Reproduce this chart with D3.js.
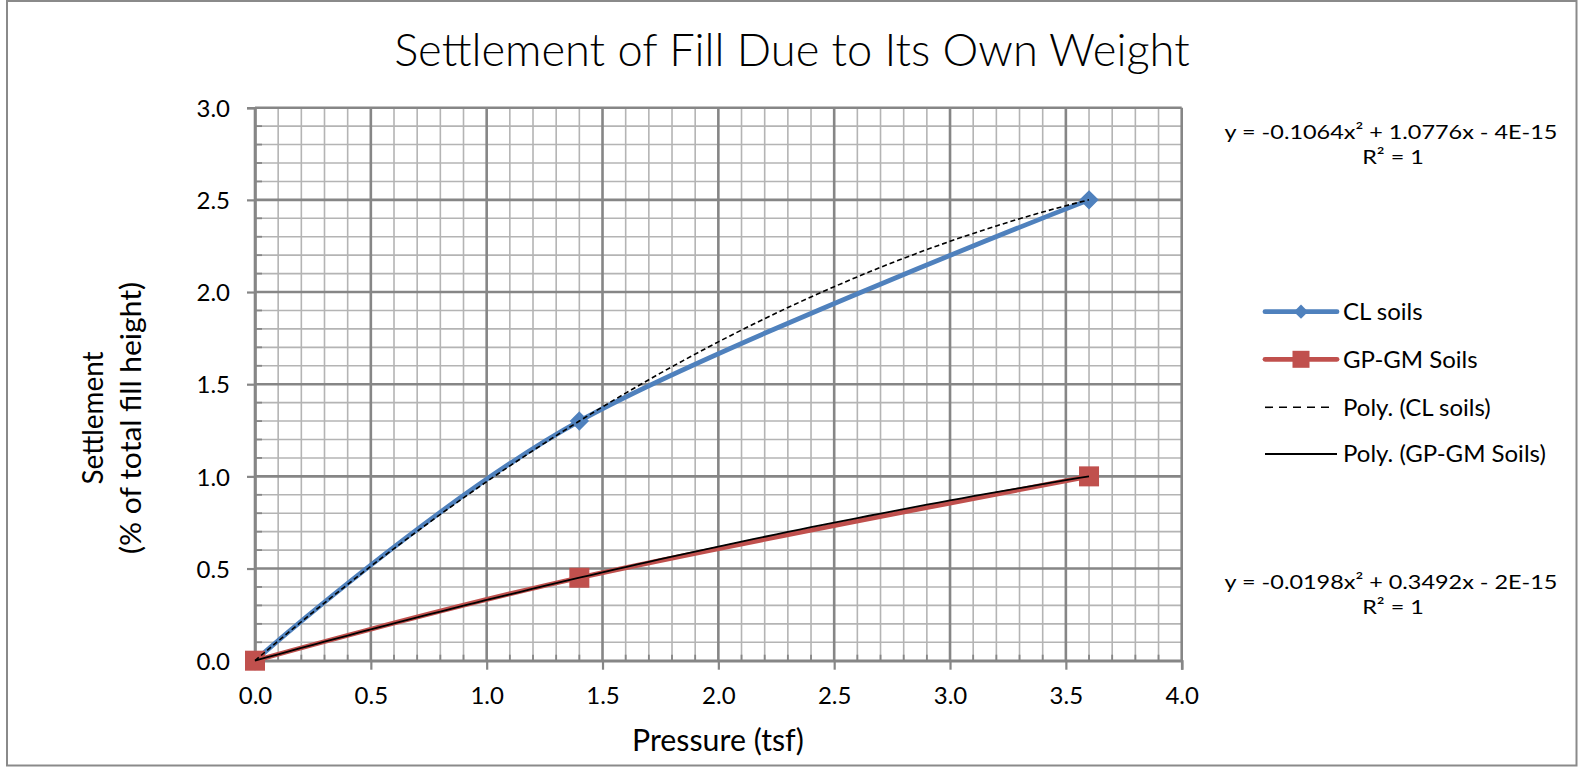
<!DOCTYPE html>
<html><head><meta charset="utf-8">
<script src="https://cdn.jsdelivr.net/npm/d3@7"></script>
<style>
html,body{margin:0;padding:0;background:#fff;}
svg{display:block;}
text{font-family:Lato,"Open Sans",sans-serif;fill:#000;}
</style></head>
<body>
<svg id="chart" width="1578" height="769"></svg>
<script>
// ---- data ----
const chartTitle = "Settlement of Fill Due to Its Own Weight";
const xAxisTitle = "Pressure (tsf)";
const yAxisTitleLines = ["Settlement", "(% of total fill height)"];
const xTickValues = [0.0, 0.5, 1.0, 1.5, 2.0, 2.5, 3.0, 3.5, 4.0];
const yTickValues = [0.0, 0.5, 1.0, 1.5, 2.0, 2.5, 3.0];
const seriesNames = ["CL soils", "GP-GM Soils"];
const pressure = [0, 1.4, 3.6];
const clSettlement = [0, 1.3, 2.5];
const gpSettlement = [0, 0.45, 1.0];
const clTrendCoef = [-0.1064, 1.0776, -4e-15];
const gpTrendCoef = [-0.0198, 0.3492, -2e-15];
const trendNames = ["Poly. (CL soils)", "Poly. (GP-GM Soils)"];
const clEquation = "y = -0.1064x\u00B2 + 1.0776x - 4E-15";
const gpEquation = "y = -0.0198x\u00B2 + 0.3492x - 2E-15";
const rSquaredLabel = "R\u00B2 = 1";

// ---- layout ----
const svg = d3.select("#chart");
const L = 255, R = 1181.7, T = 107.7, B = 660.7;
const x = d3.scaleLinear().domain([0, 4]).range([L, R]);
const y = d3.scaleLinear().domain([0, 3]).range([B, T]);
const blue = "#4F81BD", red = "#C0504D";
const majorGrid = "#868686", minorGrid = "#b4b4b4";

// outer chart border
svg.append("rect").attr("x", 7).attr("y", 1).attr("width", 1569.5).attr("height", 764.5)
  .attr("fill", "#fff").attr("stroke", "#8a8a8a").attr("stroke-width", 2);

// minor grid
const minorX = d3.range(0, 41).map(i => i / 10).filter(v => Math.abs(v * 2 - Math.round(v * 2)) > 1e-6);
const minorY = d3.range(0, 31).map(i => i / 10).filter(v => Math.abs(v * 2 - Math.round(v * 2)) > 1e-6);
const g = svg.append("g");
g.selectAll(".mx").data(minorX).join("line")
  .attr("x1", d => x(d)).attr("x2", d => x(d)).attr("y1", T).attr("y2", B)
  .attr("stroke", minorGrid).attr("stroke-width", 1.6);
g.selectAll(".my").data(minorY).join("line")
  .attr("x1", L).attr("x2", R).attr("y1", d => y(d)).attr("y2", d => y(d))
  .attr("stroke", minorGrid).attr("stroke-width", 1.6);
// minor tick marks (inside)
g.selectAll(".mtx").data(minorX).join("line")
  .attr("x1", d => x(d)).attr("x2", d => x(d)).attr("y1", B).attr("y2", B - 6)
  .attr("stroke", majorGrid).attr("stroke-width", 1.8);
g.selectAll(".mty").data(minorY).join("line")
  .attr("x1", L).attr("x2", L + 7).attr("y1", d => y(d)).attr("y2", d => y(d))
  .attr("stroke", majorGrid).attr("stroke-width", 1.8);
// major grid
g.selectAll(".Mx").data(xTickValues).join("line")
  .attr("x1", d => x(d)).attr("x2", d => x(d)).attr("y1", T).attr("y2", B)
  .attr("stroke", majorGrid).attr("stroke-width", 2.6);
g.selectAll(".My").data(yTickValues).join("line")
  .attr("x1", L).attr("x2", R).attr("y1", d => y(d)).attr("y2", d => y(d))
  .attr("stroke", majorGrid).attr("stroke-width", 2.6);

// axes
const xAxis = d3.axisBottom(x).tickValues(xTickValues).tickFormat(d3.format(".1f")).tickSize(9).tickPadding(17);
const yAxis = d3.axisLeft(y).tickValues(yTickValues).tickFormat(d3.format(".1f")).tickSize(8).tickPadding(17);
const gx = svg.append("g").attr("transform", `translate(0,${B})`).call(xAxis);
const gy = svg.append("g").attr("transform", `translate(${L},0)`).call(yAxis);
[gx, gy].forEach(a => {
  a.select(".domain").attr("stroke", majorGrid).attr("stroke-width", 2.6);
  a.selectAll(".tick line").attr("stroke", majorGrid).attr("stroke-width", 2.2);
  a.selectAll(".tick text").attr("font-size", 24).attr("font-family", "Lato,'Open Sans',sans-serif").attr("fill", "#000");
});
gy.selectAll(".tick text").attr("dy", "0.36em");

// series lines (smoothed)
const line = d3.line().x(d => x(d[0])).y(d => y(d[1])).curve(d3.curveCardinal.tension(0));
const clPts = pressure.map((p, i) => [p, clSettlement[i]]);
const gpPts = pressure.map((p, i) => [p, gpSettlement[i]]);
svg.append("path").attr("d", line(clPts)).attr("fill", "none").attr("stroke", blue).attr("stroke-width", 4.8).attr("stroke-linecap", "round");
svg.append("path").attr("d", line(gpPts)).attr("fill", "none").attr("stroke", red).attr("stroke-width", 4.8).attr("stroke-linecap", "round");

// markers
const diamond = d3.symbol().type(d3.symbolDiamond2).size(190);
svg.selectAll(".dm").data(clPts).join("path")
  .attr("d", diamond).attr("transform", d => `translate(${x(d[0])},${y(d[1])})`)
  .attr("fill", blue).attr("stroke", blue).attr("stroke-width", 1.5);
svg.selectAll(".sq").data(gpPts).join("rect")
  .attr("x", d => x(d[0]) - 10).attr("y", d => y(d[1]) - 10).attr("width", 20).attr("height", 20)
  .attr("fill", red);

// trendlines
const poly = c => v => c[0] * v * v + c[1] * v + c[2];
const trendX = d3.range(0, 3.6001, 0.05);
const tline = d3.line().x(d => x(d[0])).y(d => y(d[1]));
svg.append("path").attr("d", tline(trendX.map(v => [v, poly(clTrendCoef)(v)])))
  .attr("fill", "none").attr("stroke", "#000").attr("stroke-width", 1.6).attr("stroke-dasharray", "5,3");
svg.append("path").attr("d", tline(trendX.map(v => [v, poly(gpTrendCoef)(v)])))
  .attr("fill", "none").attr("stroke", "#000").attr("stroke-width", 1.8);

// helper: scale a text element horizontally (by width target or factor), centered at cx
function fitWidth(sel, cx, width, factor) {
  const bb = sel.node().getBBox();
  const s = factor || width / bb.width;
  const cxOrig = bb.x + bb.width / 2;
  sel.attr("transform", `translate(${cx},0) scale(${s},1) translate(${-cxOrig},0)`);
  return s;
}

// title
const title = svg.append("text").attr("x", 0).attr("y", 66).attr("text-anchor", "middle")
  .attr("font-size", 46).attr("font-weight", 300).text(chartTitle);
fitWidth(title, 792, 796);

// axis titles
const xt = svg.append("text").attr("x", 0).attr("y", 751).attr("text-anchor", "middle")
  .attr("font-size", 31).text(xAxisTitle);
fitWidth(xt, 718, 172);
const yt = svg.append("text").attr("transform", "translate(103,418) rotate(-90)").attr("text-anchor", "middle").attr("font-size", 28);
yt.append("tspan").attr("x", 0).attr("y", 0).attr("textLength", 133).attr("lengthAdjust", "spacingAndGlyphs").text(yAxisTitleLines[0]);
yt.append("tspan").attr("x", 0).attr("y", 38).attr("textLength", 272).attr("lengthAdjust", "spacingAndGlyphs").text(yAxisTitleLines[1]);

// equations
function equationBlock(eq, r2, cx, yb, size) {
  const t1 = svg.append("text").attr("x", 0).attr("y", yb).attr("text-anchor", "middle").attr("font-size", size).text(eq);
  const s = fitWidth(t1, cx, 333);
  const t2 = svg.append("text").attr("x", 0).attr("y", yb + 24.5).attr("text-anchor", "middle").attr("font-size", size).text(r2);
  fitWidth(t2, cx + 2, null, s);
}
equationBlock(clEquation, rSquaredLabel, 1391, 139.5, 20);
equationBlock(gpEquation, rSquaredLabel, 1391, 589.5, 20);

// legend
const legY = [311.7, 359.3, 407.3, 454];
const lx1 = 1265, lx2 = 1337, ltx = 1343;
const leg = svg.append("g");
leg.append("line").attr("x1", lx1).attr("x2", lx2).attr("y1", legY[0]).attr("y2", legY[0]).attr("stroke", blue).attr("stroke-width", 4.8).attr("stroke-linecap", "round");
leg.append("path").attr("d", d3.symbol().type(d3.symbolDiamond2).size(130)).attr("transform", `translate(${(lx1 + lx2) / 2},${legY[0]})`).attr("fill", blue);
leg.append("line").attr("x1", lx1).attr("x2", lx2).attr("y1", legY[1]).attr("y2", legY[1]).attr("stroke", red).attr("stroke-width", 4.8).attr("stroke-linecap", "round");
leg.append("rect").attr("x", (lx1 + lx2) / 2 - 8.5).attr("y", legY[1] - 8.5).attr("width", 17).attr("height", 17).attr("fill", red);
leg.append("line").attr("x1", lx1).attr("x2", lx2 - 2).attr("y1", legY[2]).attr("y2", legY[2]).attr("stroke", "#000").attr("stroke-width", 1.6).attr("stroke-dasharray", "8,6");
leg.append("line").attr("x1", lx1).attr("x2", lx2).attr("y1", legY[3]).attr("y2", legY[3]).attr("stroke", "#000").attr("stroke-width", 1.8);
const legLabels = [seriesNames[0], seriesNames[1], trendNames[0], trendNames[1]];
leg.selectAll(".lt").data(legLabels).join("text")
  .attr("x", ltx).attr("y", (d, i) => legY[i]).attr("dy", "0.35em").attr("font-size", 24).text(d => d);
</script>
</body></html>
